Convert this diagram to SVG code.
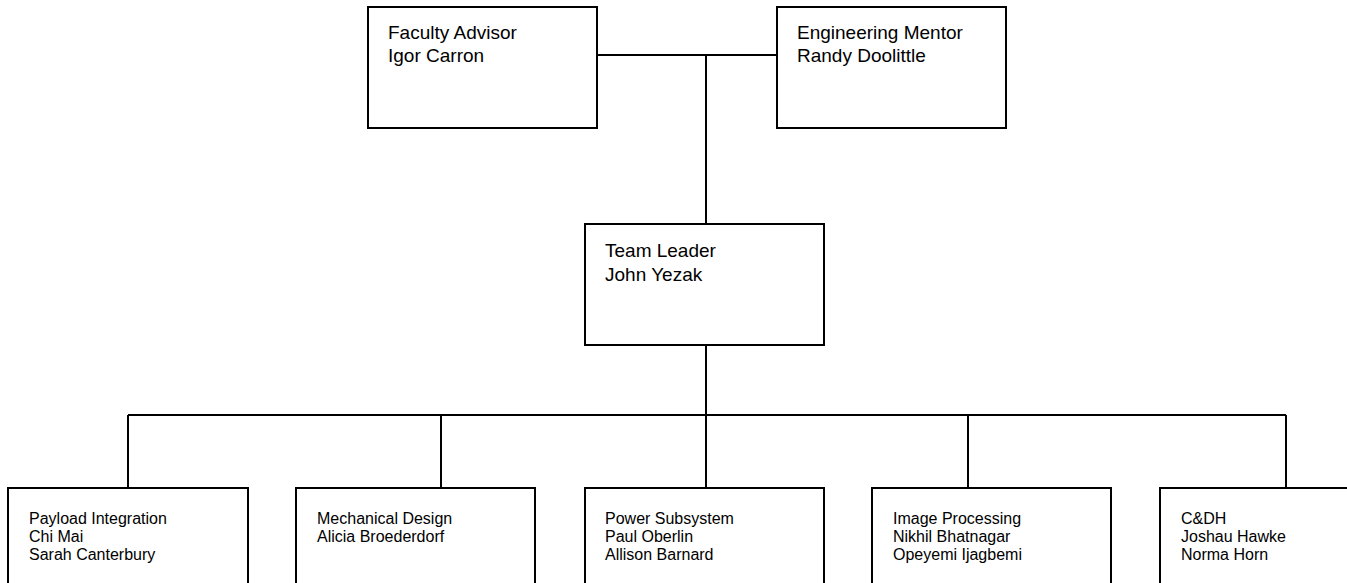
<svg xmlns="http://www.w3.org/2000/svg" width="1347" height="583" viewBox="0 0 1347 583">
<style>
.box{fill:#fff;stroke:#000;stroke-width:2}
.ln{fill:none;stroke:#000;stroke-width:2}
.big{font-family:"Liberation Sans",Arial,sans-serif;font-size:19px;fill:#000}
.sm{font-family:"Liberation Sans",Arial,sans-serif;font-size:16px;fill:#000}
</style>
<rect width="1347" height="583" fill="#fff"/>
<g id="connectors">
<path class="ln" d="M597,55 H777 M706,55 V224 M706,345 V415 M128,415 H1286 M128,415 V488 M441,415 V488 M706,415 V488 M968,415 V488 M1286,415 V488"/>
</g>
<g id="faculty">
<rect class="box" x="368" y="7" width="229" height="121"/>
<text class="big" x="388" y="39">Faculty Advisor</text>
<text class="big" x="388" y="62">Igor Carron</text>
</g>
<g id="mentor">
<rect class="box" x="777" y="7" width="229" height="121"/>
<text class="big" x="797" y="39">Engineering Mentor</text>
<text class="big" x="797" y="62">Randy Doolittle</text>
</g>
<g id="leader">
<rect class="box" x="585" y="224" width="239" height="121"/>
<text class="big" x="605" y="257">Team Leader</text>
<text class="big" x="605" y="281">John Yezak</text>
</g>
<g id="payload">
<rect class="box" x="8" y="488" width="240" height="110"/>
<text class="sm" x="29" y="524">Payload Integration</text>
<text class="sm" x="29" y="542">Chi Mai</text>
<text class="sm" x="29" y="560">Sarah Canterbury</text>
</g>
<g id="mechanical">
<rect class="box" x="296" y="488" width="239" height="110"/>
<text class="sm" x="317" y="524">Mechanical Design</text>
<text class="sm" x="317" y="542">Alicia Broederdorf</text>
</g>
<g id="power">
<rect class="box" x="585" y="488" width="239" height="110"/>
<text class="sm" x="605" y="524">Power Subsystem</text>
<text class="sm" x="605" y="542">Paul Oberlin</text>
<text class="sm" x="605" y="560">Allison Barnard</text>
</g>
<g id="image">
<rect class="box" x="872" y="488" width="239" height="110"/>
<text class="sm" x="893" y="524">Image Processing</text>
<text class="sm" x="893" y="542">Nikhil Bhatnagar</text>
<text class="sm" x="893" y="560">Opeyemi Ijagbemi</text>
</g>
<g id="cdh">
<rect class="box" x="1160" y="488" width="240" height="110"/>
<text class="sm" x="1181" y="524">C&amp;DH</text>
<text class="sm" x="1181" y="542">Joshau Hawke</text>
<text class="sm" x="1181" y="560">Norma Horn</text>
</g>
</svg>
